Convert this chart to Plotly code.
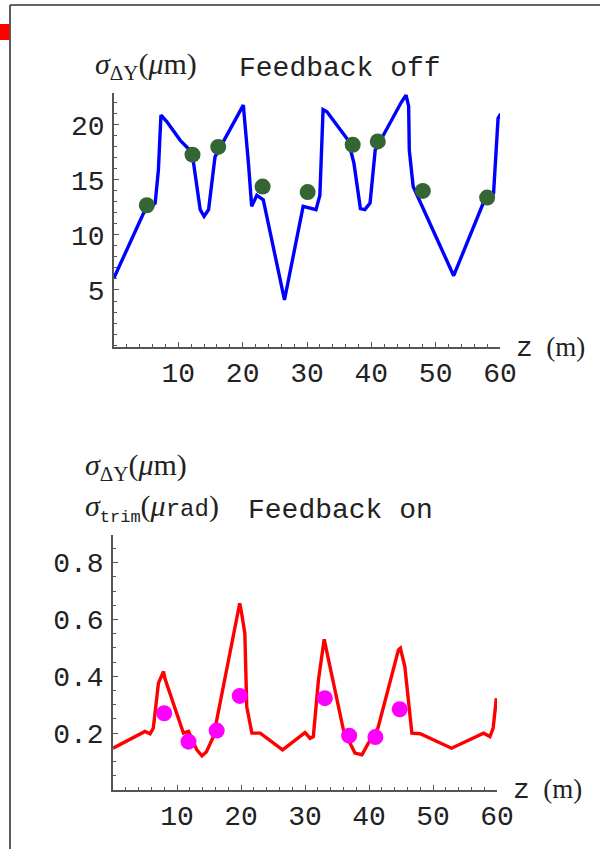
import plotly.graph_objects as go

# Beam-size profile along the linac, feedback off (blue line) and trim positions (green dots)
z_off = [0.0, 4.6, 6.4, 6.9, 7.3, 8.2, 10.3, 11.8, 12.3, 12.6, 13.4, 14.0, 14.7, 15.7,
         20.1, 20.9, 21.4, 22.2, 23.2, 26.5, 29.4, 31.4, 32.0, 32.5, 33.1, 36.4, 37.3,
         38.3, 39.0, 39.8, 40.6, 44.7, 45.4, 45.8, 45.9, 46.5, 52.8, 57.4, 59.0, 59.7, 60.1]
sig_off = [6.1, 12.0, 12.9, 15.9, 20.9, 20.3, 18.6, 17.7, 16.8, 15.6, 12.3, 11.7, 12.3, 17.1,
           21.8, 16.5, 12.6, 13.6, 13.2, 4.1, 12.6, 12.3, 13.6, 21.4, 21.2, 18.6, 16.5,
           12.4, 12.3, 12.9, 17.7, 22.1, 22.7, 21.7, 17.7, 14.4, 6.3, 12.9, 13.8, 20.6, 21.0]
z_pts_off = [5.1, 12.2, 16.2, 23.1, 30.1, 37.1, 41.0, 48.0, 58.0]
sig_pts_off = [12.7, 17.3, 18.0, 14.4, 13.9, 18.2, 18.5, 14.0, 13.4]

# Same profile with feedback on (red line) and trim strengths (magenta dots)
z_on = [0.0, 5.0, 5.8, 6.3, 7.1, 7.9, 8.1, 11.0, 11.8, 13.1, 13.9, 14.6, 15.7, 19.6, 19.8,
        20.1, 20.6, 20.9, 21.7, 23.0, 26.5, 30.0, 30.8, 31.3, 32.1, 33.0, 36.0, 37.8, 38.9,
        39.9, 41.4, 44.6, 44.9, 45.6, 46.7, 48.0, 52.9, 57.9, 58.9, 59.4, 59.9]
sig_on = [0.147, 0.206, 0.198, 0.218, 0.376, 0.417, 0.393, 0.200, 0.206, 0.141, 0.120, 0.135,
          0.188, 0.622, 0.657, 0.622, 0.551, 0.293, 0.200, 0.200, 0.141, 0.202, 0.182, 0.188,
          0.387, 0.530, 0.212, 0.130, 0.124, 0.165, 0.218, 0.493, 0.499, 0.434, 0.200, 0.198,
          0.147, 0.200, 0.188, 0.218, 0.323]
z_pts_on = [8.0, 11.8, 16.2, 19.8, 33.1, 36.9, 41.0, 44.8]
sig_pts_on = [0.270, 0.170, 0.209, 0.331, 0.323, 0.191, 0.186, 0.284]

x_ticks = [10, 20, 30, 40, 50, 60]
y_ticks_off = [5, 10, 15, 20]
y_ticks_on = [0.2, 0.4, 0.6, 0.8]

W, H = 600, 849
MONO = "Liberation Mono, Courier New, monospace"
SERIF = "Liberation Serif, Times New Roman, serif"
AX = "#555555"
TXT = "#222222"


def px_x(p):
    return p / W


def px_y(p):
    return 1 - p / H


fig = go.Figure()
fig.add_trace(go.Scatter(x=z_off, y=sig_off, mode="lines",
                         line=dict(color="#0000ff", width=3.4), xaxis="x", yaxis="y"))
fig.add_trace(go.Scatter(x=z_pts_off, y=sig_pts_off, mode="markers",
                         marker=dict(color="#336633", size=16), xaxis="x", yaxis="y"))
fig.add_trace(go.Scatter(x=z_on, y=sig_on, mode="lines",
                         line=dict(color="#ff0000", width=3.4), xaxis="x2", yaxis="y2"))
fig.add_trace(go.Scatter(x=z_pts_on, y=sig_pts_on, mode="markers",
                         marker=dict(color="#ff00ff", size=16), xaxis="x2", yaxis="y2"))

xcommon = dict(range=[0, 60], tickvals=x_ticks, ticks="inside", ticklen=5, tickwidth=1,
               tickcolor=AX, showline=True, linecolor=AX, linewidth=1.5, showgrid=False,
               zeroline=False, tickfont=dict(family=MONO, size=28, color=TXT),
               ticklabelstandoff=0, automargin=False,
               minor=dict(dtick=2, ticks="inside", ticklen=3, tickcolor=AX, showgrid=False))
ycommon = dict(ticks="inside", ticklen=5, tickwidth=1, tickcolor=AX, showline=True,
               linecolor=AX, linewidth=1.5, showgrid=False, zeroline=False,
               tickfont=dict(family=MONO, size=28, color=TXT), ticklabelstandoff=2,
               automargin=False)

fig.update_layout(
    width=W, height=H, autosize=False, margin=dict(l=0, r=0, t=0, b=0, autoexpand=False),
    paper_bgcolor="white", plot_bgcolor="white", showlegend=False,
    xaxis=dict(domain=[px_x(114), px_x(500)], anchor="y", **xcommon),
    yaxis=dict(domain=[px_y(347), px_y(93)], anchor="x", range=[-0.18, 22.9],
               tickvals=y_ticks_off,
               minor=dict(dtick=1, ticks="inside", ticklen=3, tickcolor=AX, showgrid=False),
               **ycommon),
    xaxis2=dict(domain=[px_x(113), px_x(497)], anchor="y2", **xcommon),
    yaxis2=dict(domain=[px_y(790), px_y(535)], anchor="x2", range=[0, 0.897],
                tickvals=y_ticks_on, tickformat=".1f",
                minor=dict(dtick=0.05, ticks="inside", ticklen=3, tickcolor=AX, showgrid=False),
                **ycommon),
)

# Outer frame and corner mark
fig.add_shape(type="line", xref="paper", yref="paper", x0=px_x(10), x1=px_x(10),
              y0=px_y(5), y1=px_y(849), line=dict(color="#333333", width=1.6))
fig.add_shape(type="line", xref="paper", yref="paper", x0=px_x(10), x1=1,
              y0=px_y(5), y1=px_y(5), line=dict(color="#333333", width=1.6))
fig.add_shape(type="rect", xref="paper", yref="paper", x0=0, x1=px_x(9.5),
              y0=px_y(40), y1=px_y(24), fillcolor="#ff0000", line=dict(width=0))


def label(text, x, y, font, size, xanchor="left"):
    fig.add_annotation(text=text, xref="paper", yref="paper", x=px_x(x), y=px_y(y),
                       xanchor=xanchor, yanchor="middle", showarrow=False,
                       font=dict(family=font, size=size, color=TXT))


def mono(text, size):
    return ("<span style='font-family:Liberation Mono, Courier New, monospace;"
            f"font-size:{size}px'>{text}</span>")


sig_dy = "<i>σ</i><sub>ΔY</sub>(<i>μ</i>m)"
sig_trim = "<i>σ</i><sub>" + mono("trim", 17) + "</sub>(<i>μ</i>" + mono("rad", 24) + ")"
z_label = mono("z", 28) + "  (m)"

label("Feedback off", 340, 68, MONO, 28, "center")
label("Feedback on", 340, 510, MONO, 28, "center")
label(sig_dy, 93, 66, SERIF, 30)
label(sig_dy, 83, 467, SERIF, 30)
label(sig_trim, 83, 508, SERIF, 30)
label(z_label, 514, 348, SERIF, 27)
label(z_label, 511, 790, SERIF, 27)

fig.write_html("out.html", config={"responsive": False})
